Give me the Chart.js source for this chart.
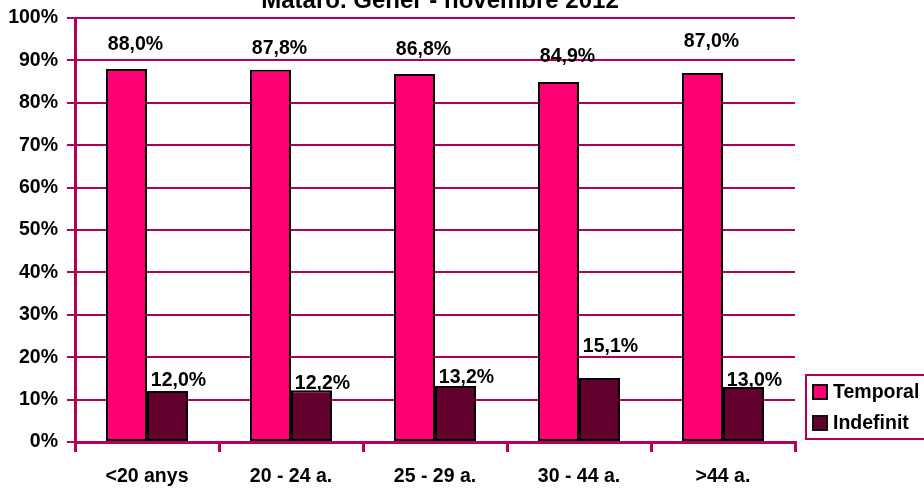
<!DOCTYPE html>
<html>
<head>
<meta charset="utf-8">
<script src="https://cdn.jsdelivr.net/npm/chart.js@4.4.0/dist/chart.umd.min.js"></script>
<style>
body{margin:0;background:#fff;}
</style>
</head>
<body>
<canvas id="chart" width="924" height="489"></canvas>
<script>

let categories=["<20 anys","20 - 24 a.","25 - 29 a.","30 - 44 a.",">44 a."];
let temporal=[88.0,87.8,86.8,84.9,87.0];
let indefinit=[12.0,12.2,13.2,15.1,13.0];
let seriesNames=["Temporal","Indefinit"];
let yTicks=[0,10,20,30,40,50,60,70,80,90,100];
let title="Mataró. Gener - novembre 2012";

let pink="#FF0073";
let wine="#62002E";
let lineColor="#B4005A";
let font="'Liberation Sans', Arial, sans-serif";

function pct(v){
return v.toFixed(1).replace(".",",")+"%";
}

// where Excel put each value label, relative to the top of its bar
let labelDy=[[-24,-21,-24,-25,-31],[-10,-7,-8,-31,-6]];
let labelDx=[9,11];

let extras={
id:"extras",
afterDatasetsDraw(chart){
let ctx=chart.ctx;
ctx.save();
ctx.fillStyle="#000";
ctx.font="bold 19.5px "+font;
ctx.textAlign="center";
ctx.textBaseline="middle";
chart.data.datasets.forEach(function(ds,i){
chart.getDatasetMeta(i).data.forEach(function(bar,j){
ctx.fillText(pct(ds.data[j]),bar.x+labelDx[i],bar.y+labelDy[i][j]);
});
});

// title, cut at the top like the original
ctx.font="bold 24px "+font;
ctx.textBaseline="alphabetic";
ctx.fillText(title,440,8);

// legend box
ctx.strokeStyle=lineColor;
ctx.lineWidth=2;
ctx.strokeRect(806,375,130,64);
ctx.font="bold 19.5px "+font;
ctx.textAlign="left";
let colors=[pink,wine];
let ys=[392,423];
for(let k=0;k<2;k++){
ctx.fillStyle=colors[k];
ctx.fillRect(813,ys[k]-7,14,14);
ctx.strokeStyle="#111";
ctx.lineWidth=2;
ctx.strokeRect(813,ys[k]-7,14,14);
ctx.fillStyle="#000";
ctx.textBaseline="middle";
ctx.fillText(seriesNames[k],833,ys[k]+1);
}
ctx.restore();
}
};

new Chart(document.getElementById("chart"),{
type:"bar",
data:{
labels:categories,
datasets:[{
label:seriesNames[0],
data:temporal,
backgroundColor:pink,
borderColor:"#000",
borderWidth:2,
borderSkipped:false
},{
label:seriesNames[1],
data:indefinit,
backgroundColor:wine,
borderColor:"#000",
borderWidth:2,
borderSkipped:false
}]
},
options:{
responsive:false,
animation:false,
layout:{padding:{top:18,right:129,left:0,bottom:0}},
categoryPercentage:0.57,
barPercentage:1,
plugins:{legend:{display:false},tooltip:{enabled:false}},
scales:{
x:{
grid:{offset:true,drawOnChartArea:false,color:lineColor,lineWidth:3,tickLength:10},
border:{color:lineColor,width:3},
ticks:{color:"#000",font:{family:font,weight:"bold",size:19.5},padding:13},
afterFit(scale){scale.height=47;scale.paddingLeft=0;scale.paddingRight=0;}
},
y:{
min:0,
max:100,
afterBuildTicks(scale){scale.ticks=yTicks.map(function(v){return {value:v};});},
grid:{color:lineColor,lineWidth:2,tickLength:8},
border:{color:lineColor,width:3},
ticks:{color:"#000",font:{family:font,weight:"bold",size:19.5},padding:9,callback:function(v){return v+"%";}},
afterFit(scale){scale.width=75;scale.paddingTop=0;scale.paddingBottom=0;}
}
}
},
plugins:[extras]
});

</script>
</body>
</html>
